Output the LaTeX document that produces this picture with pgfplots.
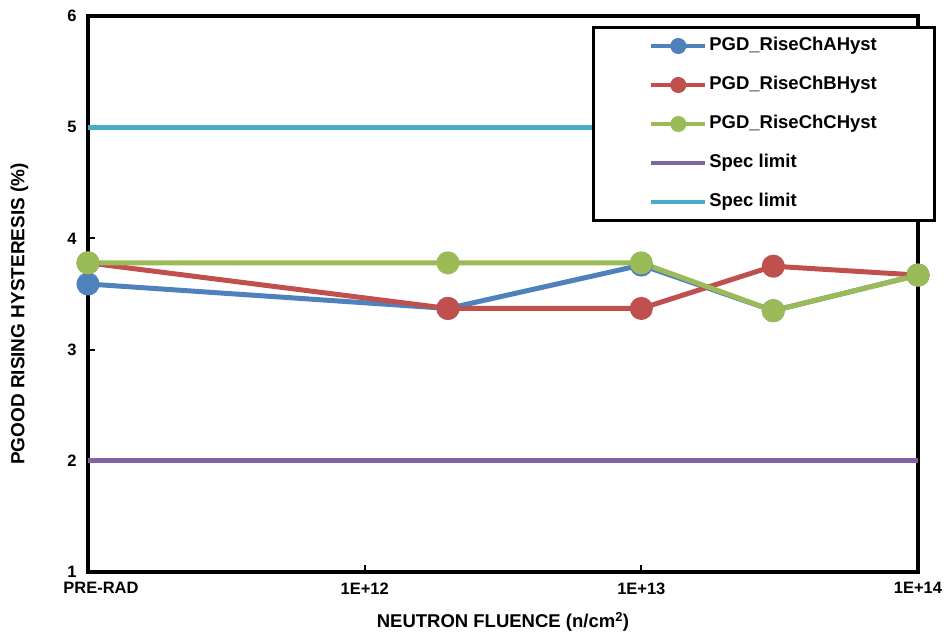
\documentclass[border=0pt]{standalone}
\usepackage{fontspec}
\setmainfont{Liberation Sans}
\usepackage{pgfplots}
\pgfplotsset{compat=1.18}
\definecolor{cA}{HTML}{4F81BD}
\definecolor{cB}{HTML}{C0504D}
\definecolor{cC}{HTML}{9BBB59}
\definecolor{cP}{HTML}{8064A2}
\definecolor{cS}{HTML}{4BACC6}
\pgfplotsset{
  myleg/.style={legend image code/.code={\draw[line width=4pt,mark size=6pt,mark repeat=2,mark phase=2] plot coordinates {(0pt,0pt) (27pt,0pt) (54pt,0pt)};}},
  mylegline/.style={legend image code/.code={\draw[line width=4pt] (0pt,0pt) -- (54pt,0pt);}},
}
\begin{document}
\begin{tikzpicture}
\begin{axis}[
  scale only axis, width=830pt, height=556pt,
  xmin=11, xmax=14, ymin=1, ymax=6,
  xtick={11,12,13,14},
  xticklabels={\hspace*{26pt}PRE-RAD,1E+12,1E+13,1E+14},
  ytick={1,2,3,4,5,6},
  xtick pos=lower, ytick pos=left,
  tick align=inside, major tick length=7pt,
  axis line style={line width=3.5pt},
  tick style={black, line width=2pt},
  every tick label/.append style={font=\fontsize{16.5}{19}\selectfont\bfseries},
  /pgf/number format/assume math mode=true,
  xticklabel style={yshift=-7pt},
  yticklabel style={xshift=-8pt},
  xlabel={NEUTRON FLUENCE (n/cm\textsuperscript{2})},
  ylabel={PGOOD RISING HYSTERESIS (\%)},
  xlabel style={font=\fontsize{18.5}{21}\selectfont\bfseries, at={(axis description cs:0.5,-0.09)}, anchor=center},
  ylabel style={font=\fontsize{19}{22}\selectfont\bfseries, at={(axis description cs:-0.0825,0.464)}, anchor=center},
  clip=false,
  legend style={at={(axis description cs:0.607,0.982)}, anchor=north west,
    draw=black, line width=3pt, inner xsep=56pt, inner ysep=8pt,
    row sep=18pt, column sep=0pt,
    nodes={inner sep=2pt, text height=13pt, text depth=4pt, anchor=west},
    font=\fontsize{18.5}{21}\selectfont\bfseries},
  legend cell align=left,
]
\addplot[cA, line width=5pt, mark=*, mark size=9pt, mark options={solid}, myleg]
  coordinates {(11,3.59) (12.301,3.37) (13,3.76) (13.477,3.35) (14,3.67)};
\addlegendentry{PGD\_RiseChAHyst}
\addplot[cB, line width=5pt, mark=*, mark size=9pt, mark options={solid}, myleg]
  coordinates {(11,3.78) (12.301,3.37) (13,3.37) (13.477,3.75) (14,3.67)};
\addlegendentry{PGD\_RiseChBHyst}
\addplot[cC, line width=5pt, mark=*, mark size=9pt, mark options={solid}, myleg]
  coordinates {(11,3.78) (12.301,3.78) (13,3.78) (13.477,3.35) (14,3.67)};
\addlegendentry{PGD\_RiseChCHyst}
\addplot[cP, line width=5pt, mylegline]
  coordinates {(11,2) (14,2)};
\addlegendentry{Spec limit}
\addplot[cS, line width=5pt, mylegline]
  coordinates {(11,5) (14,5)};
\addlegendentry{Spec limit}
\end{axis}
\path[use as bounding box] (current axis.south west) ++(-88pt,-65pt) rectangle ++(946pt,637pt);
\end{tikzpicture}
\end{document}
